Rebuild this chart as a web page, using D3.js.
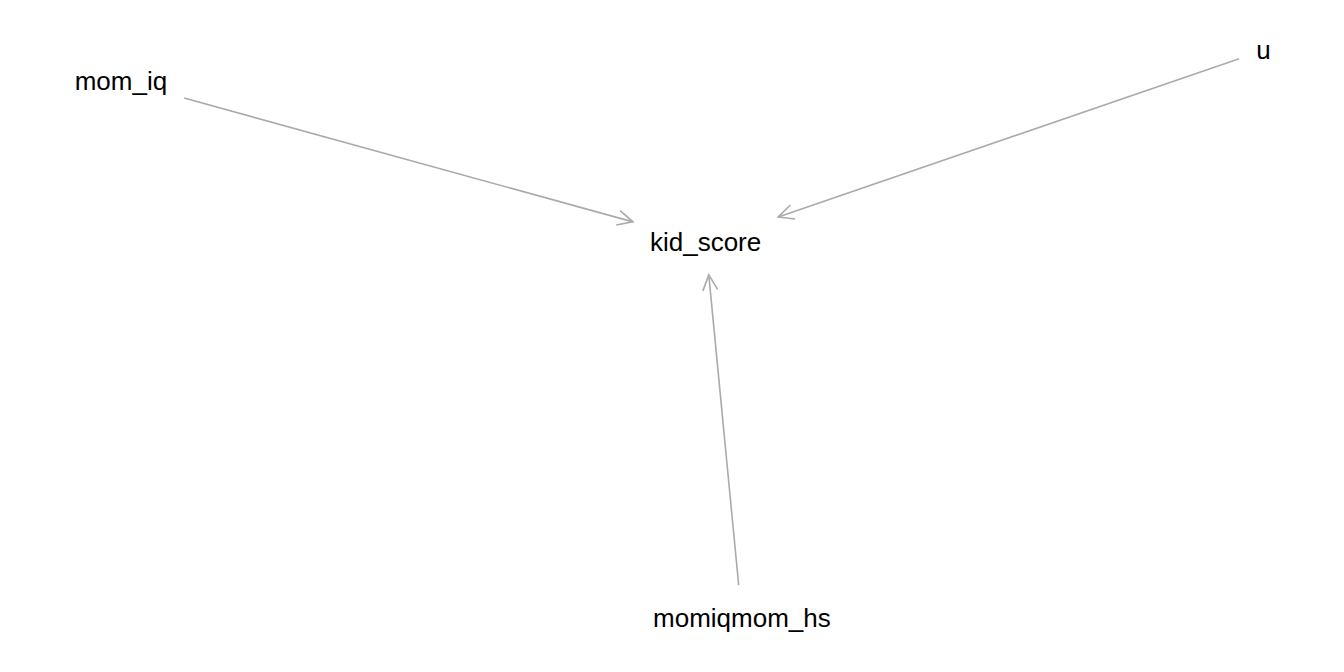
<!DOCTYPE html>
<html><head><meta charset="utf-8">
<script src="https://cdn.jsdelivr.net/npm/d3@7"></script>
<style>body{margin:0;background:#fff}</style></head>
<body><svg id="c" width="1344" height="672"></svg>
<script>
const nodeNames = ['mom_iq', 'u', 'kid_score', 'momiqmom_hs'];
const nodeX = [0.09, 0.94, 0.525, 0.552];
const nodeY = [0.88, 0.925, 0.64, 0.08];
const edgeFrom = ['mom_iq', 'u', 'momiqmom_hs'];
const edgeTo = ['kid_score', 'kid_score', 'kid_score'];

const svg = d3.select('#c');
const x = d3.scaleLinear().domain([0, 1]).range([0, 1344]);
const y = d3.scaleLinear().domain([0, 1]).range([672, 0]);

const nodes = nodeNames.map((n, i) => ({ name: n, px: x(nodeX[i]), py: y(nodeY[i]) }));
const byName = new Map(nodes.map(d => [d.name, d]));

const labels = svg.selectAll('text').data(nodes).join('text')
  .attr('x', d => d.px).attr('y', d => d.py)
  .attr('text-anchor', 'middle').attr('dominant-baseline', 'central')
  .style('font-family', 'Liberation Sans, Arial, sans-serif')
  .style('font-size', '26px').style('fill', '#000')
  .text(d => d.name);
labels.each(function (d) { d.hw = this.getComputedTextLength() / 2 + 17; d.hh = 33; });

function clip(n, dx, dy) {
  const t = Math.min(Math.abs(n.hw / (dx || 1e-9)), Math.abs(n.hh / (dy || 1e-9)));
  return [n.px + dx * t, n.py + dy * t];
}

const g = svg.insert('g', 'text');
edgeFrom.forEach((f, i) => {
  const a = byName.get(f), b = byName.get(edgeTo[i]);
  const dx = b.px - a.px, dy = b.py - a.py;
  const s = clip(a, dx, dy), e = clip(b, -dx, -dy);
  g.append('line').attr('x1', s[0]).attr('y1', s[1]).attr('x2', e[0]).attr('y2', e[1])
    .attr('stroke', '#aaaaaa').attr('stroke-width', 1.6);
  const ang = Math.atan2(e[1] - s[1], e[0] - s[0]), L = 17, w = 0.45;
  const p1 = [e[0] - L * Math.cos(ang - w), e[1] - L * Math.sin(ang - w)];
  const p2 = [e[0] - L * Math.cos(ang + w), e[1] - L * Math.sin(ang + w)];
  g.append('path').attr('d', d3.line()([p1, e, p2]))
    .attr('fill', 'none').attr('stroke', '#aaaaaa').attr('stroke-width', 1.6);
});
</script></body></html>
